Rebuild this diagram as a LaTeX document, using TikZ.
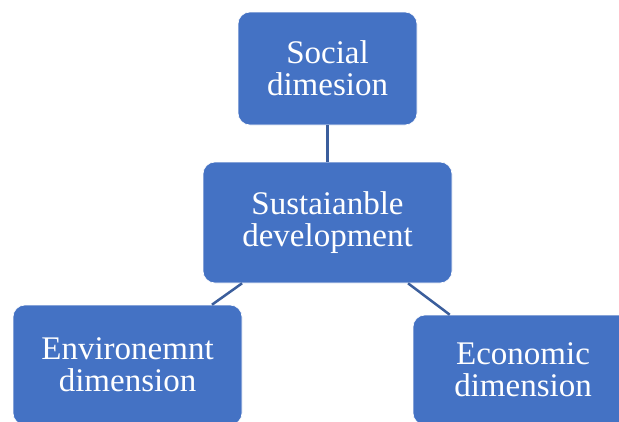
\documentclass[tikz,border=0pt]{standalone}
\usepackage{fontspec}
\setmainfont{Liberation Serif}
\usepackage{xcolor}
\usepackage{tikz}
\usetikzlibrary{shapes,positioning,calc}

\definecolor{boxblue}{HTML}{4472C4}
\definecolor{linkblue}{HTML}{3B5E9C}

\begin{document}
\begin{tikzpicture}[x=1pt, y=-1pt,
    box/.style={rectangle, rounded corners=12pt, fill=boxblue, draw=white, line width=0.6pt,
        text=white, align=center, inner sep=0pt, font=\fontsize{33}{32}\selectfont},
    link/.style={draw=linkblue, line width=2.5pt}]
    % Frame
    \clip (0,0) rectangle (619,421);
    \fill[white] (0,0) rectangle (619,421);

    % Boxes
    \node[box, minimum width=179pt, minimum height=113pt] (social) at (327.5,68.5) {Social\\dimesion};
    \node[box, minimum width=249pt, minimum height=121pt] (sust) at (327.5,222.5) {Sustaianble\\development};
    \node[box, minimum width=229pt, minimum height=120pt] (env) at (127.5,365) {Environemnt\\dimension};
    \node[box, minimum width=220pt, minimum height=110pt] (econ) at (523,370) {Economic\\dimension};

    % Connections
    \draw[link] (social) -- (sust);
    \foreach \d in {env,econ}
        \draw[link] (sust) -- (\d);
\end{tikzpicture}
\end{document}
